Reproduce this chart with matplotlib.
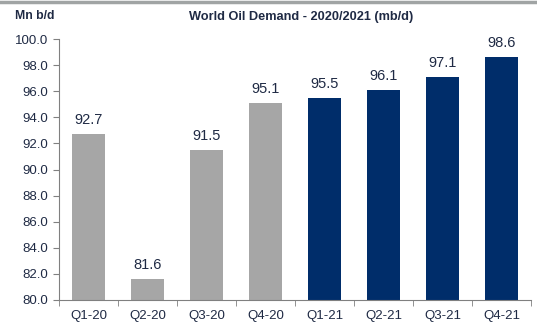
import matplotlib
matplotlib.use("Agg")
import matplotlib.pyplot as plt
from matplotlib.lines import Line2D

categories = ["Q1-20", "Q2-20", "Q3-20", "Q4-20", "Q1-21", "Q2-21", "Q3-21", "Q4-21"]
values = [92.7, 81.6, 91.5, 95.1, 95.5, 96.1, 97.1, 98.6]
colors = ["#A6A6A6"] * 4 + ["#002D6A"] * 4
yticks = [80.0, 82.0, 84.0, 86.0, 88.0, 90.0, 92.0, 94.0, 96.0, 98.0, 100.0]

plt.rcParams['font.family'] = ['Liberation Sans', 'DejaVu Sans']
W, H = 537, 323
fig = plt.figure(figsize=(W / 100, H / 100), dpi=100)
ax = fig.add_axes([59 / W, 1 - 300 / H, (531 - 59) / W, (300 - 39) / H])

x = list(range(len(categories)))
ax.bar(x, values, width=0.56, color=colors, bottom=0)
ax.set_ylim(80, 100)
ax.set_xlim(-0.5, len(categories) - 0.5)
ax.set_yticks(yticks)
ax.set_yticklabels([f"{v:.1f}" for v in yticks], color="#1F2A44", fontsize=9.5)
ax.set_xticks(x)
ax.set_xticklabels(categories, color="#1F2A44", fontsize=9.5)
ax.tick_params(axis='x', length=0, pad=7)
ax.tick_params(axis='y', length=4, direction='out', color="#808080", pad=4)
ax.set_xticks([i - 0.5 for i in range(len(categories) + 1)], minor=True)
ax.tick_params(axis='x', which='minor', length=4, direction='out', color="#808080")
for s in ['top', 'right']:
    ax.spines[s].set_visible(False)
for s in ['left', 'bottom']:
    ax.spines[s].set_color("#808080")
    ax.spines[s].set_linewidth(0.8)

for xi, v in zip(x, values):
    ax.text(xi, v + 0.55, f"{v:.1f}", ha='center', va='bottom', fontsize=10.5, color="#1F2A44")

fig.text(301 / W, 1 - 17 / H, "World Oil Demand - 2020/2021 (mb/d)", ha='center', va='center',
         fontsize=9.2, fontweight='bold', color="#1F2A44")
fig.text(35 / W, 1 - 16 / H, "Mn b/d", ha='center', va='center', fontsize=8.8, fontweight='bold', color="#1F2A44")
fig.add_artist(Line2D([0, 1], [1 - 2 / H, 1 - 2 / H], transform=fig.transFigure, color="#A0A4A4", linewidth=2.5))

fig.savefig("out.png", dpi=100)
